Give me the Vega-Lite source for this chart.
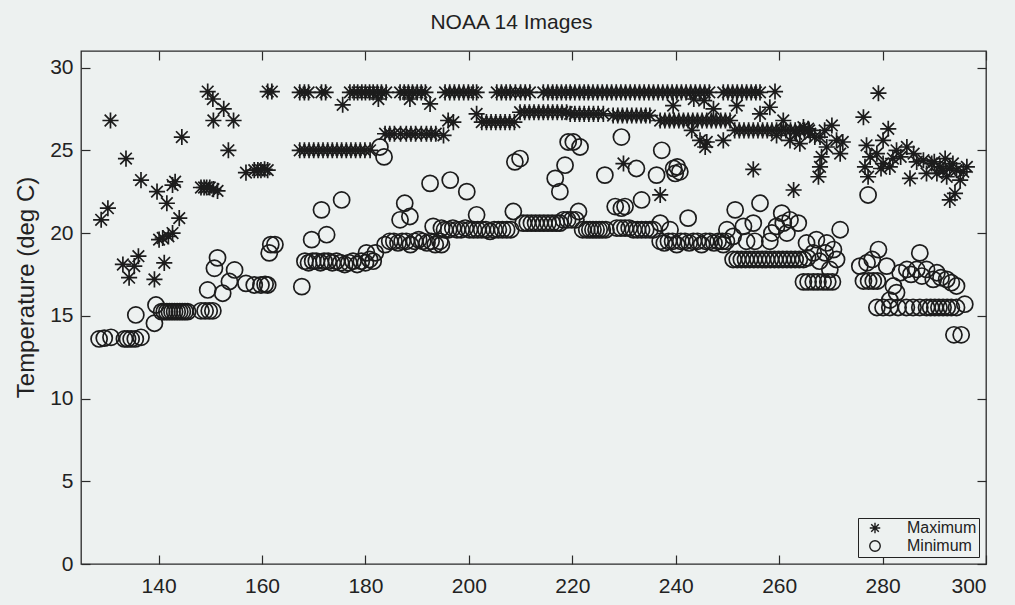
{
  "$schema": "https://vega.github.io/schema/vega-lite/v6.json",
  "width": 905,
  "height": 513,
  "autosize": "none",
  "padding": {"left": 81, "top": 51, "right": 29, "bottom": 41},
  "background": "#edf1f0",
  "title": {"text": "NOAA 14 Images", "fontSize": 21, "font": "Liberation Sans", "fontWeight": "normal", "color": "#222", "offset": 17, "anchor": "middle", "dx": -22},
  "data": {"values": [
    {"d":128.9,"t":20.8,"s":"Maximum"},{"d":130.2,"t":21.5,"s":"Maximum"},{"d":130.7,"t":26.8,"s":"Maximum"},{"d":133.1,"t":18.1,"s":"Maximum"},{"d":133.7,"t":24.5,"s":"Maximum"},{"d":134.3,"t":17.3,"s":"Maximum"},{"d":135.3,"t":18.0,"s":"Maximum"},{"d":136.1,"t":18.6,"s":"Maximum"},{"d":136.6,"t":23.2,"s":"Maximum"},{"d":139.2,"t":17.2,"s":"Maximum"},{"d":139.7,"t":22.5,"s":"Maximum"},{"d":140.1,"t":19.6,"s":"Maximum"},{"d":140.8,"t":19.7,"s":"Maximum"},{"d":141.1,"t":18.2,"s":"Maximum"},{"d":141.6,"t":21.8,"s":"Maximum"},{"d":141.9,"t":19.8,"s":"Maximum"},{"d":142.7,"t":20.0,"s":"Maximum"},{"d":142.7,"t":22.9,"s":"Maximum"},{"d":143.2,"t":23.1,"s":"Maximum"},{"d":144.0,"t":20.9,"s":"Maximum"},{"d":144.5,"t":25.8,"s":"Maximum"},
    {"d":148.2,"t":22.75,"s":"Maximum"},{"d":148.8,"t":22.75,"s":"Maximum"},{"d":149.3,"t":22.75,"s":"Maximum"},{"d":149.9,"t":22.75,"s":"Maximum"},{"d":150.6,"t":22.65,"s":"Maximum"},{"d":151.4,"t":22.55,"s":"Maximum"},{"d":149.5,"t":28.55,"s":"Maximum"},{"d":150.5,"t":28.1,"s":"Maximum"},{"d":152.6,"t":27.5,"s":"Maximum"},{"d":150.6,"t":26.8,"s":"Maximum"},{"d":154.5,"t":26.8,"s":"Maximum"},{"d":153.5,"t":25.0,"s":"Maximum"},{"d":156.9,"t":23.65,"s":"Maximum"},{"d":158.5,"t":23.8,"s":"Maximum"},{"d":159.2,"t":23.8,"s":"Maximum"},{"d":159.8,"t":23.8,"s":"Maximum"},{"d":160.5,"t":23.85,"s":"Maximum"},{"d":161.1,"t":23.8,"s":"Maximum"},{"d":161.1,"t":28.55,"s":"Maximum"},{"d":161.9,"t":28.55,"s":"Maximum"},
    {"d":167.3,"t":28.5,"s":"Maximum"},{"d":168.2,"t":28.5,"s":"Maximum"},{"d":169.0,"t":28.5,"s":"Maximum"},{"d":171.5,"t":28.5,"s":"Maximum"},{"d":172.3,"t":28.5,"s":"Maximum"},{"d":175.6,"t":27.75,"s":"Maximum"},
    {"d":177.0,"t":28.5,"s":"Maximum"},{"d":177.8,"t":28.5,"s":"Maximum"},{"d":178.5,"t":28.5,"s":"Maximum"},{"d":179.3,"t":28.5,"s":"Maximum"},{"d":180.0,"t":28.5,"s":"Maximum"},{"d":180.8,"t":28.5,"s":"Maximum"},{"d":181.5,"t":28.5,"s":"Maximum"},{"d":182.3,"t":28.5,"s":"Maximum"},{"d":183.1,"t":28.5,"s":"Maximum"},{"d":184.0,"t":28.5,"s":"Maximum"},{"d":182.5,"t":28.1,"s":"Maximum"},
    {"d":186.7,"t":28.5,"s":"Maximum"},{"d":187.5,"t":28.5,"s":"Maximum"},{"d":188.3,"t":28.5,"s":"Maximum"},{"d":189.1,"t":28.5,"s":"Maximum"},{"d":190.0,"t":28.5,"s":"Maximum"},{"d":190.8,"t":28.5,"s":"Maximum"},{"d":191.6,"t":28.5,"s":"Maximum"},{"d":188.6,"t":28.1,"s":"Maximum"},{"d":192.5,"t":27.8,"s":"Maximum"},
    {"d":195.4,"t":28.5,"s":"Maximum"},{"d":196.3,"t":28.5,"s":"Maximum"},{"d":197.2,"t":28.5,"s":"Maximum"},{"d":198.1,"t":28.5,"s":"Maximum"},{"d":199.0,"t":28.5,"s":"Maximum"},{"d":199.9,"t":28.5,"s":"Maximum"},{"d":200.8,"t":28.5,"s":"Maximum"},{"d":201.5,"t":28.5,"s":"Maximum"},
    {"d":205.4,"t":28.5,"s":"Maximum"},{"d":206.3,"t":28.5,"s":"Maximum"},{"d":207.2,"t":28.5,"s":"Maximum"},{"d":208.0,"t":28.5,"s":"Maximum"},{"d":209.0,"t":28.5,"s":"Maximum"},{"d":210.0,"t":28.5,"s":"Maximum"},{"d":210.9,"t":28.5,"s":"Maximum"},{"d":211.8,"t":28.5,"s":"Maximum"},
    {"d":214.4,"t":28.5,"s":"Maximum"},{"d":215.3,"t":28.5,"s":"Maximum"},{"d":216.2,"t":28.5,"s":"Maximum"},{"d":217.0,"t":28.5,"s":"Maximum"},{"d":217.9,"t":28.5,"s":"Maximum"},{"d":218.8,"t":28.5,"s":"Maximum"},{"d":219.6,"t":28.5,"s":"Maximum"},{"d":220.5,"t":28.5,"s":"Maximum"},{"d":221.4,"t":28.5,"s":"Maximum"},{"d":222.3,"t":28.5,"s":"Maximum"},
    {"d":223.1,"t":28.5,"s":"Maximum"},{"d":224.0,"t":28.5,"s":"Maximum"},{"d":224.9,"t":28.5,"s":"Maximum"},{"d":225.8,"t":28.5,"s":"Maximum"},{"d":226.7,"t":28.5,"s":"Maximum"},{"d":227.6,"t":28.5,"s":"Maximum"},{"d":228.5,"t":28.5,"s":"Maximum"},{"d":229.4,"t":28.5,"s":"Maximum"},{"d":230.3,"t":28.5,"s":"Maximum"},
    {"d":231.2,"t":28.5,"s":"Maximum"},{"d":232.1,"t":28.5,"s":"Maximum"},{"d":233.0,"t":28.5,"s":"Maximum"},{"d":233.9,"t":28.5,"s":"Maximum"},{"d":234.8,"t":28.5,"s":"Maximum"},
    {"d":235.7,"t":28.5,"s":"Maximum"},{"d":236.6,"t":28.5,"s":"Maximum"},{"d":237.5,"t":28.5,"s":"Maximum"},{"d":238.4,"t":28.5,"s":"Maximum"},{"d":239.3,"t":28.5,"s":"Maximum"},{"d":240.2,"t":28.5,"s":"Maximum"},{"d":241.1,"t":28.5,"s":"Maximum"},{"d":242.0,"t":28.5,"s":"Maximum"},{"d":242.9,"t":28.5,"s":"Maximum"},{"d":243.8,"t":28.5,"s":"Maximum"},{"d":244.7,"t":28.5,"s":"Maximum"},{"d":245.6,"t":28.5,"s":"Maximum"},{"d":246.5,"t":28.5,"s":"Maximum"},{"d":243.5,"t":28.1,"s":"Maximum"},{"d":245.5,"t":28.0,"s":"Maximum"},
    {"d":249.2,"t":28.5,"s":"Maximum"},{"d":250.1,"t":28.5,"s":"Maximum"},{"d":251.0,"t":28.5,"s":"Maximum"},{"d":251.9,"t":28.5,"s":"Maximum"},{"d":252.8,"t":28.5,"s":"Maximum"},{"d":253.7,"t":28.5,"s":"Maximum"},{"d":254.6,"t":28.5,"s":"Maximum"},{"d":255.5,"t":28.5,"s":"Maximum"},{"d":256.3,"t":28.5,"s":"Maximum"},{"d":259.2,"t":28.55,"s":"Maximum"},{"d":279.2,"t":28.45,"s":"Maximum"},
    {"d":167.3,"t":25.0,"s":"Maximum"},{"d":168.2,"t":25.0,"s":"Maximum"},{"d":169.1,"t":25.0,"s":"Maximum"},{"d":170.0,"t":25.0,"s":"Maximum"},{"d":170.9,"t":25.0,"s":"Maximum"},{"d":171.8,"t":25.0,"s":"Maximum"},{"d":172.7,"t":25.0,"s":"Maximum"},{"d":173.6,"t":25.0,"s":"Maximum"},{"d":174.5,"t":25.0,"s":"Maximum"},{"d":175.4,"t":25.0,"s":"Maximum"},{"d":176.3,"t":25.0,"s":"Maximum"},{"d":177.2,"t":25.0,"s":"Maximum"},{"d":178.1,"t":25.0,"s":"Maximum"},{"d":179.0,"t":25.0,"s":"Maximum"},{"d":179.9,"t":25.0,"s":"Maximum"},{"d":180.9,"t":25.0,"s":"Maximum"},
    {"d":183.8,"t":26.0,"s":"Maximum"},{"d":184.7,"t":26.0,"s":"Maximum"},{"d":185.6,"t":26.0,"s":"Maximum"},{"d":186.8,"t":26.0,"s":"Maximum"},{"d":187.9,"t":26.0,"s":"Maximum"},{"d":188.8,"t":26.0,"s":"Maximum"},{"d":189.7,"t":26.0,"s":"Maximum"},{"d":190.8,"t":26.0,"s":"Maximum"},{"d":191.8,"t":26.0,"s":"Maximum"},{"d":192.7,"t":26.0,"s":"Maximum"},{"d":193.6,"t":26.0,"s":"Maximum"},{"d":195.1,"t":25.9,"s":"Maximum"},{"d":196.0,"t":26.8,"s":"Maximum"},{"d":197.0,"t":26.7,"s":"Maximum"},{"d":201.5,"t":27.2,"s":"Maximum"},
    {"d":202.5,"t":26.7,"s":"Maximum"},{"d":203.4,"t":26.7,"s":"Maximum"},{"d":204.3,"t":26.7,"s":"Maximum"},{"d":205.2,"t":26.7,"s":"Maximum"},{"d":206.1,"t":26.7,"s":"Maximum"},{"d":207.0,"t":26.7,"s":"Maximum"},{"d":207.9,"t":26.7,"s":"Maximum"},{"d":208.8,"t":26.7,"s":"Maximum"},
    {"d":209.9,"t":27.3,"s":"Maximum"},{"d":210.8,"t":27.3,"s":"Maximum"},{"d":211.7,"t":27.3,"s":"Maximum"},{"d":212.6,"t":27.3,"s":"Maximum"},{"d":213.5,"t":27.3,"s":"Maximum"},{"d":214.4,"t":27.3,"s":"Maximum"},{"d":215.3,"t":27.3,"s":"Maximum"},{"d":216.2,"t":27.3,"s":"Maximum"},{"d":217.1,"t":27.3,"s":"Maximum"},{"d":218.0,"t":27.3,"s":"Maximum"},{"d":218.9,"t":27.3,"s":"Maximum"},
    {"d":219.6,"t":27.2,"s":"Maximum"},{"d":220.5,"t":27.2,"s":"Maximum"},{"d":221.4,"t":27.2,"s":"Maximum"},{"d":222.3,"t":27.2,"s":"Maximum"},{"d":223.2,"t":27.2,"s":"Maximum"},{"d":224.1,"t":27.2,"s":"Maximum"},{"d":225.0,"t":27.2,"s":"Maximum"},{"d":226.0,"t":27.2,"s":"Maximum"},
    {"d":227.9,"t":27.1,"s":"Maximum"},{"d":228.8,"t":27.1,"s":"Maximum"},{"d":229.7,"t":27.1,"s":"Maximum"},{"d":230.6,"t":27.1,"s":"Maximum"},{"d":231.5,"t":27.1,"s":"Maximum"},{"d":232.4,"t":27.1,"s":"Maximum"},{"d":233.3,"t":27.1,"s":"Maximum"},{"d":234.2,"t":27.1,"s":"Maximum"},{"d":235.0,"t":27.1,"s":"Maximum"},
    {"d":237.0,"t":26.8,"s":"Maximum"},{"d":237.9,"t":26.8,"s":"Maximum"},{"d":238.8,"t":26.8,"s":"Maximum"},{"d":239.7,"t":26.8,"s":"Maximum"},{"d":240.6,"t":26.8,"s":"Maximum"},{"d":241.5,"t":26.8,"s":"Maximum"},{"d":242.4,"t":26.8,"s":"Maximum"},{"d":243.3,"t":26.8,"s":"Maximum"},{"d":244.2,"t":26.8,"s":"Maximum"},{"d":245.1,"t":26.8,"s":"Maximum"},{"d":246.0,"t":26.8,"s":"Maximum"},{"d":246.9,"t":26.8,"s":"Maximum"},{"d":247.8,"t":26.8,"s":"Maximum"},{"d":248.7,"t":26.8,"s":"Maximum"},{"d":249.6,"t":26.8,"s":"Maximum"},{"d":250.5,"t":26.8,"s":"Maximum"},
    {"d":251.4,"t":26.2,"s":"Maximum"},{"d":252.3,"t":26.2,"s":"Maximum"},{"d":253.2,"t":26.2,"s":"Maximum"},{"d":254.1,"t":26.2,"s":"Maximum"},{"d":255.0,"t":26.2,"s":"Maximum"},{"d":255.9,"t":26.2,"s":"Maximum"},{"d":256.8,"t":26.2,"s":"Maximum"},{"d":257.7,"t":26.2,"s":"Maximum"},{"d":258.6,"t":26.2,"s":"Maximum"},{"d":259.5,"t":26.2,"s":"Maximum"},{"d":260.4,"t":26.2,"s":"Maximum"},{"d":261.3,"t":26.2,"s":"Maximum"},{"d":262.2,"t":26.2,"s":"Maximum"},{"d":263.1,"t":26.2,"s":"Maximum"},{"d":264.0,"t":26.2,"s":"Maximum"},{"d":264.9,"t":26.2,"s":"Maximum"},{"d":265.8,"t":26.2,"s":"Maximum"},
    {"d":239.5,"t":27.7,"s":"Maximum"},{"d":243.1,"t":26.2,"s":"Maximum"},{"d":244.7,"t":25.6,"s":"Maximum"},{"d":245.7,"t":25.2,"s":"Maximum"},{"d":249.2,"t":25.6,"s":"Maximum"},{"d":247.3,"t":27.5,"s":"Maximum"},{"d":251.8,"t":27.7,"s":"Maximum"},{"d":256.3,"t":27.2,"s":"Maximum"},{"d":258.2,"t":27.6,"s":"Maximum"},{"d":260.8,"t":26.8,"s":"Maximum"},{"d":264.7,"t":26.4,"s":"Maximum"},{"d":246.0,"t":25.5,"s":"Maximum"},
    {"d":229.9,"t":24.2,"s":"Maximum"},{"d":237.0,"t":22.3,"s":"Maximum"},{"d":255.0,"t":23.85,"s":"Maximum"},{"d":262.8,"t":22.6,"s":"Maximum"},
    {"d":262.1,"t":25.6,"s":"Maximum"},{"d":264.0,"t":25.4,"s":"Maximum"},{"d":265.6,"t":26.3,"s":"Maximum"},{"d":266.9,"t":25.8,"s":"Maximum"},{"d":267.9,"t":25.8,"s":"Maximum"},{"d":270.2,"t":26.5,"s":"Maximum"},{"d":271.1,"t":25.6,"s":"Maximum"},{"d":271.8,"t":24.8,"s":"Maximum"},{"d":268.2,"t":24.6,"s":"Maximum"},{"d":267.9,"t":24.0,"s":"Maximum"},{"d":267.6,"t":23.4,"s":"Maximum"},{"d":269.2,"t":25.2,"s":"Maximum"},{"d":266.0,"t":26.0,"s":"Maximum"},{"d":268.8,"t":26.2,"s":"Maximum"},{"d":272.3,"t":25.5,"s":"Maximum"},{"d":263.3,"t":26.0,"s":"Maximum"},{"d":259.5,"t":25.9,"s":"Maximum"},
    {"d":276.3,"t":27.0,"s":"Maximum"},{"d":281.1,"t":26.3,"s":"Maximum"},{"d":280.1,"t":25.6,"s":"Maximum"},{"d":276.9,"t":25.3,"s":"Maximum"},{"d":276.6,"t":24.0,"s":"Maximum"},{"d":277.2,"t":23.4,"s":"Maximum"},{"d":277.6,"t":24.6,"s":"Maximum"},{"d":278.9,"t":24.8,"s":"Maximum"},{"d":280.1,"t":24.2,"s":"Maximum"},{"d":281.4,"t":24.0,"s":"Maximum"},{"d":282.7,"t":25.0,"s":"Maximum"},{"d":284.7,"t":25.2,"s":"Maximum"},{"d":286.0,"t":24.8,"s":"Maximum"},{"d":286.6,"t":24.3,"s":"Maximum"},{"d":285.3,"t":23.3,"s":"Maximum"},{"d":287.9,"t":24.4,"s":"Maximum"},{"d":289.5,"t":24.2,"s":"Maximum"},{"d":291.1,"t":24.0,"s":"Maximum"},{"d":292.1,"t":24.5,"s":"Maximum"},{"d":293.0,"t":23.9,"s":"Maximum"},{"d":294.3,"t":23.8,"s":"Maximum"},{"d":295.6,"t":23.7,"s":"Maximum"},{"d":296.3,"t":24.0,"s":"Maximum"},{"d":294.0,"t":22.4,"s":"Maximum"},{"d":293.0,"t":22.0,"s":"Maximum"},{"d":290.5,"t":23.6,"s":"Maximum"},{"d":292.4,"t":23.4,"s":"Maximum"},{"d":288.5,"t":23.6,"s":"Maximum"},{"d":295.0,"t":23.2,"s":"Maximum"},{"d":283.5,"t":24.6,"s":"Maximum"},{"d":290.0,"t":24.3,"s":"Maximum"},{"d":291.7,"t":23.8,"s":"Maximum"},{"d":293.6,"t":24.2,"s":"Maximum"},{"d":279.7,"t":23.9,"s":"Maximum"},{"d":282.0,"t":24.5,"s":"Maximum"},
    {"d":128.5,"t":13.6,"s":"Minimum"},{"d":129.5,"t":13.65,"s":"Minimum"},{"d":130.8,"t":13.7,"s":"Minimum"},{"d":133.4,"t":13.6,"s":"Minimum"},{"d":134.0,"t":13.6,"s":"Minimum"},{"d":134.7,"t":13.6,"s":"Minimum"},{"d":135.5,"t":13.6,"s":"Minimum"},{"d":136.6,"t":13.7,"s":"Minimum"},{"d":135.6,"t":15.05,"s":"Minimum"},{"d":139.2,"t":14.55,"s":"Minimum"},{"d":139.5,"t":15.65,"s":"Minimum"},
    {"d":140.6,"t":15.25,"s":"Minimum"},{"d":141.1,"t":15.25,"s":"Minimum"},{"d":141.6,"t":15.25,"s":"Minimum"},{"d":142.1,"t":15.25,"s":"Minimum"},{"d":142.6,"t":15.25,"s":"Minimum"},{"d":143.1,"t":15.25,"s":"Minimum"},{"d":143.6,"t":15.25,"s":"Minimum"},{"d":144.1,"t":15.25,"s":"Minimum"},{"d":144.6,"t":15.25,"s":"Minimum"},{"d":145.1,"t":15.25,"s":"Minimum"},{"d":145.6,"t":15.25,"s":"Minimum"},
    {"d":148.2,"t":15.3,"s":"Minimum"},{"d":149.0,"t":15.3,"s":"Minimum"},{"d":149.8,"t":15.3,"s":"Minimum"},{"d":150.5,"t":15.3,"s":"Minimum"},{"d":149.5,"t":16.56,"s":"Minimum"},{"d":150.8,"t":17.87,"s":"Minimum"},{"d":151.4,"t":18.5,"s":"Minimum"},{"d":152.4,"t":16.36,"s":"Minimum"},{"d":153.7,"t":17.07,"s":"Minimum"},{"d":154.7,"t":17.77,"s":"Minimum"},{"d":156.9,"t":16.96,"s":"Minimum"},
    {"d":158.5,"t":16.86,"s":"Minimum"},{"d":159.8,"t":16.86,"s":"Minimum"},{"d":160.6,"t":16.9,"s":"Minimum"},{"d":161.1,"t":16.86,"s":"Minimum"},{"d":161.4,"t":18.8,"s":"Minimum"},{"d":161.7,"t":19.3,"s":"Minimum"},{"d":162.5,"t":19.3,"s":"Minimum"},{"d":167.7,"t":16.76,"s":"Minimum"},
    {"d":168.3,"t":18.3,"s":"Minimum"},{"d":169.0,"t":18.2,"s":"Minimum"},{"d":169.8,"t":18.3,"s":"Minimum"},{"d":170.5,"t":18.3,"s":"Minimum"},{"d":171.3,"t":18.2,"s":"Minimum"},{"d":172.0,"t":18.3,"s":"Minimum"},{"d":172.8,"t":18.3,"s":"Minimum"},{"d":173.6,"t":18.2,"s":"Minimum"},{"d":174.4,"t":18.3,"s":"Minimum"},{"d":175.2,"t":18.2,"s":"Minimum"},{"d":176.0,"t":18.1,"s":"Minimum"},{"d":176.8,"t":18.2,"s":"Minimum"},{"d":177.6,"t":18.3,"s":"Minimum"},{"d":178.4,"t":18.1,"s":"Minimum"},{"d":179.2,"t":18.3,"s":"Minimum"},{"d":180.0,"t":18.2,"s":"Minimum"},{"d":180.8,"t":18.4,"s":"Minimum"},{"d":181.5,"t":18.3,"s":"Minimum"},{"d":180.2,"t":18.8,"s":"Minimum"},{"d":181.9,"t":18.8,"s":"Minimum"},
    {"d":169.6,"t":19.6,"s":"Minimum"},{"d":172.5,"t":19.9,"s":"Minimum"},{"d":171.5,"t":21.4,"s":"Minimum"},{"d":175.4,"t":22.0,"s":"Minimum"},{"d":182.8,"t":25.2,"s":"Minimum"},{"d":183.6,"t":24.6,"s":"Minimum"},
    {"d":183.8,"t":19.3,"s":"Minimum"},{"d":184.7,"t":19.5,"s":"Minimum"},{"d":185.5,"t":19.5,"s":"Minimum"},{"d":186.3,"t":19.4,"s":"Minimum"},{"d":187.1,"t":19.5,"s":"Minimum"},{"d":187.9,"t":19.5,"s":"Minimum"},{"d":188.7,"t":19.3,"s":"Minimum"},{"d":189.5,"t":19.5,"s":"Minimum"},{"d":190.3,"t":19.6,"s":"Minimum"},{"d":191.1,"t":19.5,"s":"Minimum"},{"d":191.9,"t":19.4,"s":"Minimum"},{"d":192.7,"t":19.5,"s":"Minimum"},{"d":193.5,"t":19.3,"s":"Minimum"},{"d":194.4,"t":19.5,"s":"Minimum"},
    {"d":186.7,"t":20.8,"s":"Minimum"},{"d":187.6,"t":21.8,"s":"Minimum"},{"d":188.6,"t":21.0,"s":"Minimum"},{"d":192.5,"t":23.0,"s":"Minimum"},{"d":196.4,"t":23.2,"s":"Minimum"},{"d":193.1,"t":20.4,"s":"Minimum"},{"d":194.7,"t":20.3,"s":"Minimum"},{"d":194.7,"t":19.3,"s":"Minimum"},
    {"d":195.3,"t":20.2,"s":"Minimum"},{"d":196.1,"t":20.2,"s":"Minimum"},{"d":196.9,"t":20.3,"s":"Minimum"},{"d":197.7,"t":20.2,"s":"Minimum"},{"d":198.5,"t":20.2,"s":"Minimum"},{"d":199.3,"t":20.3,"s":"Minimum"},{"d":200.1,"t":20.2,"s":"Minimum"},{"d":200.9,"t":20.2,"s":"Minimum"},{"d":201.7,"t":20.2,"s":"Minimum"},{"d":202.5,"t":20.2,"s":"Minimum"},{"d":203.3,"t":20.2,"s":"Minimum"},{"d":204.1,"t":20.1,"s":"Minimum"},{"d":204.9,"t":20.2,"s":"Minimum"},{"d":205.7,"t":20.2,"s":"Minimum"},{"d":206.5,"t":20.2,"s":"Minimum"},{"d":207.3,"t":20.2,"s":"Minimum"},{"d":208.1,"t":20.2,"s":"Minimum"},{"d":208.6,"t":21.3,"s":"Minimum"},
    {"d":210.5,"t":20.6,"s":"Minimum"},{"d":211.3,"t":20.6,"s":"Minimum"},{"d":212.1,"t":20.6,"s":"Minimum"},{"d":212.9,"t":20.6,"s":"Minimum"},{"d":213.7,"t":20.6,"s":"Minimum"},{"d":214.5,"t":20.6,"s":"Minimum"},{"d":215.3,"t":20.6,"s":"Minimum"},{"d":216.1,"t":20.6,"s":"Minimum"},{"d":216.9,"t":20.6,"s":"Minimum"},{"d":217.6,"t":20.6,"s":"Minimum"},{"d":218.3,"t":20.8,"s":"Minimum"},{"d":219.1,"t":20.8,"s":"Minimum"},{"d":219.9,"t":20.8,"s":"Minimum"},{"d":220.7,"t":20.8,"s":"Minimum"},
    {"d":222.0,"t":20.2,"s":"Minimum"},{"d":222.8,"t":20.2,"s":"Minimum"},{"d":223.4,"t":20.2,"s":"Minimum"},{"d":224.0,"t":20.2,"s":"Minimum"},{"d":224.6,"t":20.2,"s":"Minimum"},{"d":225.2,"t":20.2,"s":"Minimum"},{"d":225.8,"t":20.2,"s":"Minimum"},{"d":226.5,"t":20.2,"s":"Minimum"},{"d":228.6,"t":20.3,"s":"Minimum"},{"d":229.4,"t":20.3,"s":"Minimum"},{"d":230.2,"t":20.3,"s":"Minimum"},{"d":231.0,"t":20.3,"s":"Minimum"},
    {"d":201.5,"t":21.1,"s":"Minimum"},{"d":221.2,"t":21.3,"s":"Minimum"},{"d":228.3,"t":21.6,"s":"Minimum"},{"d":229.5,"t":21.5,"s":"Minimum"},{"d":220.2,"t":25.5,"s":"Minimum"},{"d":219.2,"t":25.5,"s":"Minimum"},{"d":221.5,"t":25.2,"s":"Minimum"},{"d":209.9,"t":24.5,"s":"Minimum"},{"d":208.9,"t":24.3,"s":"Minimum"},{"d":199.6,"t":22.5,"s":"Minimum"},{"d":218.6,"t":24.1,"s":"Minimum"},{"d":216.7,"t":23.3,"s":"Minimum"},{"d":217.6,"t":22.5,"s":"Minimum"},{"d":226.3,"t":23.5,"s":"Minimum"},{"d":229.5,"t":25.8,"s":"Minimum"},
    {"d":231.8,"t":20.2,"s":"Minimum"},{"d":232.6,"t":20.2,"s":"Minimum"},{"d":233.4,"t":20.2,"s":"Minimum"},{"d":234.2,"t":20.2,"s":"Minimum"},{"d":235.0,"t":20.2,"s":"Minimum"},{"d":235.7,"t":20.2,"s":"Minimum"},{"d":237.0,"t":20.6,"s":"Minimum"},{"d":238.9,"t":20.2,"s":"Minimum"},
    {"d":237.0,"t":19.5,"s":"Minimum"},{"d":237.8,"t":19.4,"s":"Minimum"},{"d":238.6,"t":19.5,"s":"Minimum"},{"d":239.4,"t":19.5,"s":"Minimum"},{"d":240.2,"t":19.3,"s":"Minimum"},{"d":241.0,"t":19.5,"s":"Minimum"},{"d":241.8,"t":19.5,"s":"Minimum"},{"d":242.6,"t":19.4,"s":"Minimum"},{"d":243.4,"t":19.5,"s":"Minimum"},{"d":244.2,"t":19.5,"s":"Minimum"},{"d":245.0,"t":19.3,"s":"Minimum"},{"d":245.8,"t":19.5,"s":"Minimum"},{"d":246.6,"t":19.5,"s":"Minimum"},{"d":247.4,"t":19.4,"s":"Minimum"},{"d":248.2,"t":19.5,"s":"Minimum"},{"d":249.0,"t":19.5,"s":"Minimum"},{"d":249.8,"t":19.5,"s":"Minimum"},
    {"d":237.3,"t":25.0,"s":"Minimum"},{"d":232.4,"t":23.9,"s":"Minimum"},{"d":236.3,"t":23.5,"s":"Minimum"},{"d":239.9,"t":23.6,"s":"Minimum"},{"d":239.6,"t":23.9,"s":"Minimum"},{"d":240.3,"t":24.0,"s":"Minimum"},{"d":240.8,"t":23.7,"s":"Minimum"},{"d":233.4,"t":22.0,"s":"Minimum"},{"d":230.2,"t":21.6,"s":"Minimum"},{"d":242.4,"t":20.9,"s":"Minimum"},
    {"d":249.9,"t":20.2,"s":"Minimum"},{"d":251.5,"t":21.4,"s":"Minimum"},{"d":253.1,"t":20.4,"s":"Minimum"},{"d":255.0,"t":20.6,"s":"Minimum"},{"d":251.1,"t":19.8,"s":"Minimum"},{"d":249.2,"t":19.3,"s":"Minimum"},{"d":253.7,"t":19.5,"s":"Minimum"},{"d":256.3,"t":21.8,"s":"Minimum"},{"d":260.5,"t":21.2,"s":"Minimum"},{"d":263.7,"t":20.6,"s":"Minimum"},{"d":259.5,"t":20.4,"s":"Minimum"},{"d":261.5,"t":20.0,"s":"Minimum"},{"d":260.8,"t":20.6,"s":"Minimum"},{"d":258.6,"t":20.0,"s":"Minimum"},{"d":262.1,"t":20.8,"s":"Minimum"},{"d":255.3,"t":19.5,"s":"Minimum"},{"d":258.2,"t":19.5,"s":"Minimum"},
    {"d":251.1,"t":18.4,"s":"Minimum"},{"d":251.9,"t":18.4,"s":"Minimum"},{"d":252.7,"t":18.4,"s":"Minimum"},{"d":253.5,"t":18.4,"s":"Minimum"},{"d":254.3,"t":18.4,"s":"Minimum"},{"d":255.1,"t":18.4,"s":"Minimum"},{"d":255.9,"t":18.4,"s":"Minimum"},{"d":256.7,"t":18.4,"s":"Minimum"},{"d":257.5,"t":18.4,"s":"Minimum"},{"d":258.3,"t":18.4,"s":"Minimum"},{"d":259.1,"t":18.4,"s":"Minimum"},{"d":259.9,"t":18.4,"s":"Minimum"},{"d":260.7,"t":18.4,"s":"Minimum"},{"d":261.5,"t":18.4,"s":"Minimum"},{"d":262.3,"t":18.4,"s":"Minimum"},{"d":263.1,"t":18.4,"s":"Minimum"},{"d":263.9,"t":18.4,"s":"Minimum"},{"d":264.7,"t":18.4,"s":"Minimum"},
    {"d":265.3,"t":19.4,"s":"Minimum"},{"d":267.2,"t":19.6,"s":"Minimum"},{"d":269.2,"t":19.4,"s":"Minimum"},{"d":270.5,"t":19.0,"s":"Minimum"},{"d":271.1,"t":18.4,"s":"Minimum"},{"d":269.8,"t":17.8,"s":"Minimum"},{"d":268.9,"t":18.8,"s":"Minimum"},{"d":266.6,"t":18.8,"s":"Minimum"},{"d":265.5,"t":18.5,"s":"Minimum"},{"d":267.8,"t":18.3,"s":"Minimum"},
    {"d":264.7,"t":17.05,"s":"Minimum"},{"d":265.6,"t":17.05,"s":"Minimum"},{"d":266.6,"t":17.05,"s":"Minimum"},{"d":267.5,"t":17.05,"s":"Minimum"},{"d":268.5,"t":17.05,"s":"Minimum"},{"d":269.4,"t":17.05,"s":"Minimum"},{"d":270.3,"t":17.05,"s":"Minimum"},{"d":271.8,"t":20.2,"s":"Minimum"},{"d":277.2,"t":22.3,"s":"Minimum"},
    {"d":277.0,"t":18.2,"s":"Minimum"},{"d":279.2,"t":19.0,"s":"Minimum"},{"d":280.8,"t":18.0,"s":"Minimum"},{"d":275.6,"t":18.0,"s":"Minimum"},{"d":278.0,"t":18.4,"s":"Minimum"},{"d":276.3,"t":17.1,"s":"Minimum"},{"d":277.3,"t":17.1,"s":"Minimum"},{"d":278.2,"t":17.1,"s":"Minimum"},{"d":279.0,"t":17.1,"s":"Minimum"},{"d":287.2,"t":18.8,"s":"Minimum"},
    {"d":283.4,"t":17.6,"s":"Minimum"},{"d":284.7,"t":17.8,"s":"Minimum"},{"d":286.6,"t":17.8,"s":"Minimum"},{"d":288.5,"t":17.8,"s":"Minimum"},{"d":290.5,"t":17.6,"s":"Minimum"},{"d":292.4,"t":17.2,"s":"Minimum"},{"d":294.3,"t":16.8,"s":"Minimum"},{"d":295.9,"t":15.7,"s":"Minimum"},{"d":289.8,"t":17.2,"s":"Minimum"},{"d":282.1,"t":16.8,"s":"Minimum"},{"d":282.7,"t":16.4,"s":"Minimum"},{"d":281.4,"t":15.95,"s":"Minimum"},{"d":285.5,"t":17.5,"s":"Minimum"},{"d":287.6,"t":17.4,"s":"Minimum"},{"d":291.3,"t":17.3,"s":"Minimum"},{"d":293.3,"t":17.0,"s":"Minimum"},
    {"d":278.9,"t":15.5,"s":"Minimum"},{"d":280.1,"t":15.5,"s":"Minimum"},{"d":281.4,"t":15.5,"s":"Minimum"},{"d":283.0,"t":15.5,"s":"Minimum"},{"d":284.6,"t":15.5,"s":"Minimum"},{"d":285.9,"t":15.5,"s":"Minimum"},{"d":287.2,"t":15.5,"s":"Minimum"},{"d":288.5,"t":15.5,"s":"Minimum"},{"d":289.3,"t":15.5,"s":"Minimum"},{"d":290.1,"t":15.5,"s":"Minimum"},{"d":290.9,"t":15.5,"s":"Minimum"},{"d":291.7,"t":15.5,"s":"Minimum"},{"d":292.5,"t":15.5,"s":"Minimum"},{"d":293.3,"t":15.5,"s":"Minimum"},{"d":294.3,"t":15.5,"s":"Minimum"},{"d":293.8,"t":13.85,"s":"Minimum"},{"d":295.2,"t":13.85,"s":"Minimum"}
  ]},
  "layer": [
    {
      "mark": {"type": "point", "filled": false, "color": "#1c1c1c", "strokeWidth": 1.7, "opacity": 1, "size": 260},
      "encoding": {
        "x": {"field": "d", "type": "quantitative", "scale": {"domain": [125, 300], "nice": false, "zero": false},
              "axis": {"values": [140, 160, 180, 200, 220, 240, 260, 280, 300], "title": null, "labelPadding": 20}},
        "y": {"field": "t", "type": "quantitative", "scale": {"domain": [0, 31], "nice": false, "zero": false},
              "axis": {"values": [0, 5, 10, 15, 20, 25, 30], "title": "Temperature (deg C)", "labelPadding": 17, "titlePadding": 11, "titleFontSize": 24, "titleY": 236}},
        "shape": {"field": "s", "type": "nominal",
                  "scale": {"domain": ["Maximum", "Minimum"], "range": ["M-1,0L1,0M0,-1L0,1M-0.72,-0.72L0.72,0.72M-0.72,0.72L0.72,-0.72", "circle"]},
                  "legend": {"title": null, "orient": "bottom-right", "offset": 7, "direction": "vertical",
                             "strokeColor": "#222", "fillColor": "#edf1f0", "padding": 2, "rowPadding": 0,
                             "symbolOffset": 7, "labelOffset": 24, "labelFontSize": 16, "labelFont": "Liberation Sans", "labelColor": "#222",
                             "symbolSize": 110, "symbolStrokeColor": "#1c1c1c", "symbolFillColor": "transparent", "symbolStrokeWidth": 1.4}}
      }
    },
    {
      "mark": {"type": "point", "opacity": 0},
      "encoding": {
        "x": {"field": "d", "type": "quantitative", "axis": {"orient": "top", "values": [140, 160, 180, 200, 220, 240, 260, 280, 300], "labels": false, "title": null}},
        "y": {"field": "t", "type": "quantitative", "axis": {"orient": "right", "values": [0, 5, 10, 15, 20, 25, 30], "labels": false, "title": null}}
      }
    }
  ],
  "resolve": {"axis": {"x": "independent", "y": "independent"}},
  "config": {
    "font": "Liberation Sans",
    "view": {"stroke": "#2a2a2a", "strokeWidth": 1.3},
    "axis": {"grid": false, "domain": false, "tickColor": "#2a2a2a", "tickSize": -9, "tickWidth": 1.2,
             "labelFont": "Liberation Sans", "labelFontSize": 21, "labelColor": "#222",
             "titleFont": "Liberation Sans", "titleFontSize": 21, "titleFontWeight": "normal", "titleColor": "#222"}
  }
}
